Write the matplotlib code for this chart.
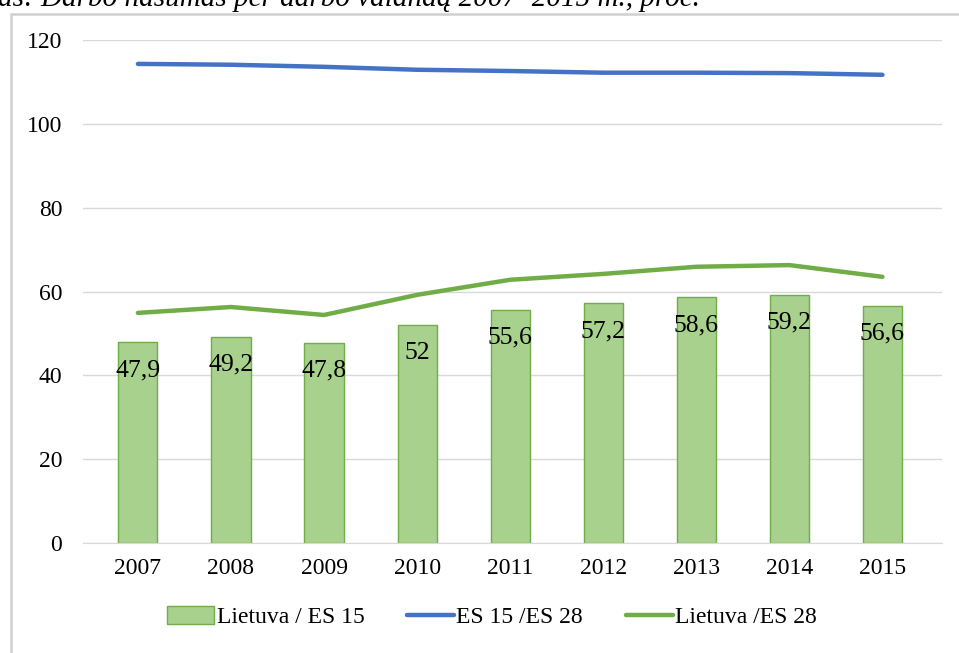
import matplotlib.pyplot as plt
from matplotlib.patches import Rectangle

years = ['2007', '2008', '2009', '2010', '2011', '2012', '2013', '2014', '2015']
lt_es15 = [47.9, 49.2, 47.8, 52, 55.6, 57.2, 58.6, 59.2, 56.6]
es15_es28 = [114.3, 114.1, 113.6, 112.9, 112.6, 112.2, 112.2, 112.1, 111.7]
lt_es28 = [54.9, 56.3, 54.4, 59.2, 62.8, 64.2, 65.9, 66.3, 63.5]
bar_labels = ['47,9', '49,2', '47,8', '52', '55,6', '57,2', '58,6', '59,2', '56,6']

plt.rcParams['font.family'] = ['Liberation Serif', 'DejaVu Serif']

W, H = 959, 653
fig = plt.figure(figsize=(W / 100, H / 100), dpi=100)

# outer chart border (light grey frame, partly cut off)
fig.patches.append(Rectangle((11 / W, -0.1), 1.2, 1.1 - 14 / H, transform=fig.transFigure,
                             fill=False, edgecolor='#D0D0D0', linewidth=1.8))

# cut-off caption on top
fig.text(-2 / W, 1 - 6 / H, 'as: Darbo našumas per darbo valandą 2007–2015 m., proc.',
         fontsize=21, style='italic', ha='left', va='baseline')

ax = fig.add_axes([83 / W, 1 - 543 / H, (942 - 83) / W, (543 - 40) / H])
x = list(range(len(years)))

bars = ax.bar(x, lt_es15, width=0.42, color='#A9D18E', edgecolor='#70AD47', linewidth=1,
              label='Lietuva / ES 15', zorder=2)
l1, = ax.plot(x, es15_es28, color='#4472C4', linewidth=3.2, solid_capstyle='round',
              label='ES 15 /ES 28', zorder=3)
l2, = ax.plot(x, lt_es28, color='#70AD47', linewidth=3.2, solid_capstyle='round',
              label='Lietuva /ES 28', zorder=3)

for xi, v, lab in zip(x, lt_es15, bar_labels):
    ax.annotate(lab, (xi, v), xytext=(0, -20), textcoords='offset points',
                ha='center', va='center', fontsize=18.5, zorder=4)

ax.set_ylim(0, 120)
ax.set_xlim(-0.59, 8.64)
ax.set_yticks(range(0, 121, 20))
ax.set_xticks(x)
ax.set_xticklabels(years)
ax.tick_params(axis='both', length=0, labelsize=17)
ax.tick_params(axis='y', pad=15)
ax.tick_params(axis='x', pad=11)
ax.grid(axis='y', color='#D9D9D9', linewidth=1, zorder=0)
ax.set_axisbelow(True)
for s in ['top', 'right', 'left']:
    ax.spines[s].set_visible(False)
ax.spines['bottom'].set_color('#D9D9D9')

ax.legend([bars, l1, l2], ['Lietuva / ES 15', 'ES 15 /ES 28', 'Lietuva /ES 28'],
          loc='center', bbox_to_anchor=(492 / W, 1 - 617 / H), bbox_transform=fig.transFigure,
          ncol=3, frameon=False, fontsize=17, handlelength=2.0, handleheight=0.8,
          handletextpad=0.1, columnspacing=1.8)

fig.savefig('out.png', dpi=100)
